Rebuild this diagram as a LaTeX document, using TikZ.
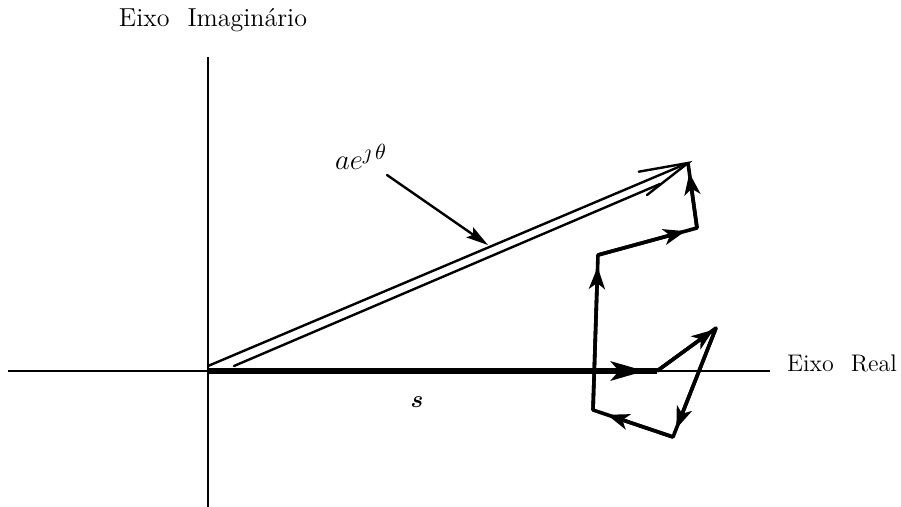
\documentclass[tikz,border=0pt]{standalone}
\usepackage{amsmath}
\usetikzlibrary{arrows.meta,calc}
\begin{document}
\begin{tikzpicture}[x=0.5pt,y=-0.5pt,
  axis/.style={line width=1pt},
  svec/.style={line width=3pt},
  cvec/.style={line width=1.8pt, line join=round},
  dline/.style={line width=1.2pt, line cap=round},
  lbl/.style={inner sep=0pt, font=\fontsize{12}{14}\selectfont},
  chead/.style={-{Stealth[length=11pt,width=8pt,inset=3pt]}},
  shead/.style={-{Stealth[length=17pt,width=9.5pt,inset=4pt]}},
  ahead/.style={-{Stealth[length=11pt,width=6pt,inset=2pt]}},
]
\useasboundingbox (0,0) rectangle (901,507);
% axes
\coordinate (xl) at (8,371);
\coordinate (xr) at (770,371);
\coordinate (yt) at (208,57);
\coordinate (yb) at (208,507);
\draw[axis] (xl) -- (xr);
\draw[axis] (yt) -- (yb);
% points
\coordinate (O) at (208,371);
\coordinate (P0) at (657,371);
\coordinate (P1) at (716,328);
\coordinate (P2) at (673,437);
\coordinate (P3) at (593,410);
\coordinate (P4) at (598,255);
\coordinate (P5) at (697,228);
\coordinate (T) at (688,163);
% s vector
\draw[svec] (O) -- (P0);
\draw[svec,shead] (O) -- ($(P0)!6pt!(O)$);
% chain of vectors
\draw[cvec] (P0) -- (P1) -- (P2) -- (P3) -- (P4) -- (P5) -- (T);
\draw[cvec,chead] (P0) -- ($(P1)!1.5pt!(P0)$);
\draw[cvec,chead] (P1) -- ($(P2)!4.5pt!(P1)$);
\draw[cvec,chead] (P2) -- ($(P3)!7.5pt!(P2)$);
\draw[cvec,chead] (P3) -- ($(P4)!6pt!(P3)$);
\draw[cvec,chead] (P4) -- ($(P5)!6pt!(P4)$);
\draw[cvec,chead] (P5) -- ($(T)!5pt!(P5)$);
% double vector a e^{j theta}
\coordinate (U0) at (208,366);
\coordinate (L0) at (234,366);
\coordinate (L1) at (660,184);
\coordinate (B1) at (638.8,171.7);
\coordinate (B2) at (647,195);
\draw[dline] (U0) -- (T);
\draw[dline] (L0) -- (L1);
\draw[dline] (B1) -- (T) -- (B2);
% labels
\node[lbl,font=\fontsize{13}{15}\selectfont] (ylab) at (213,20) {Eixo\hspace{9pt}Imaginário};
\node[lbl] (xlab) at (842,363) {Eixo\hspace{8.5pt}Real};
\node[lbl,font=\fontsize{15}{17}\selectfont] (aej) at (361,157) {$ae^{\jmath\,\theta}$};
\node[lbl,font=\fontsize{13}{15}\selectfont] (slab) at (417,402) {$\boldsymbol{s}$};
% annotation arrow
\coordinate (A0) at (387,175);
\coordinate (A1) at (488,245);
\draw[dline,ahead] (A0) -- (A1);
\end{tikzpicture}
\end{document}
